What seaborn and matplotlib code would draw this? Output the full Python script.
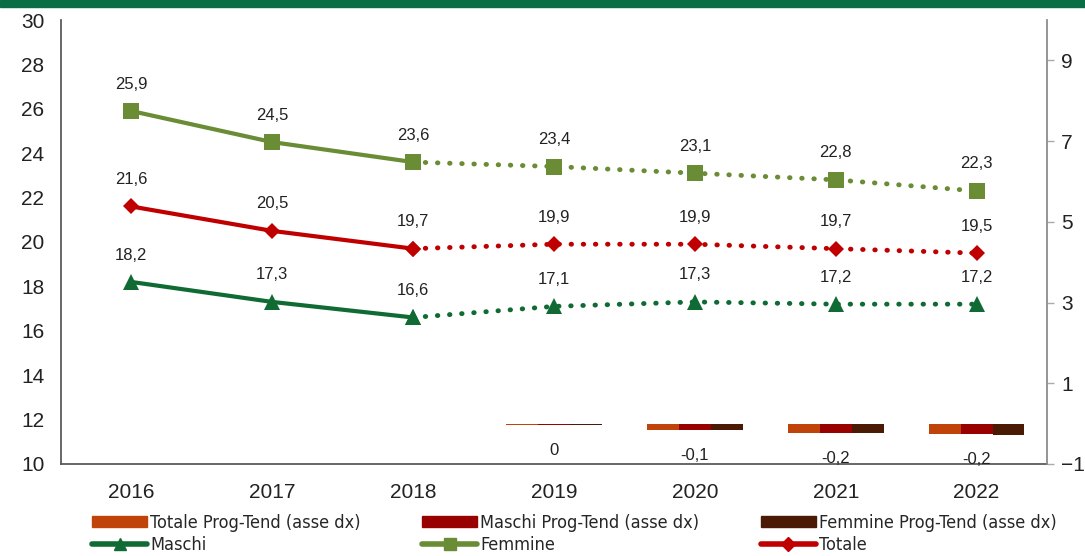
import numpy as np
import pandas as pd
import matplotlib
matplotlib.use("Agg")
import matplotlib.pyplot as plt
import seaborn as sns
from matplotlib.patches import Rectangle
from matplotlib.lines import Line2D

years = ["2016", "2017", "2018", "2019", "2020", "2021", "2022"]
femmine = [25.9, 24.5, 23.6, 23.4, 23.1, 22.8, 22.3]
totale = [21.6, 20.5, 19.7, 19.9, 19.9, 19.7, 19.5]
maschi = [18.2, 17.3, 16.6, 17.1, 17.3, 17.2, 17.2]

bar_years = ["2019", "2020", "2021", "2022"]
totale_pt = [-0.04, -0.15, -0.24, -0.25]
maschi_pt = [-0.04, -0.15, -0.24, -0.25]
femmine_pt = [-0.04, -0.15, -0.24, -0.27]

last_actual = "2018"

C_MASCHI = "#0f6b33"
C_FEMMINE = "#6a8c35"
C_TOTALE = "#c00000"
C_TOT_PT = "#c0440a"
C_MAS_PT = "#990000"
C_FEM_PT = "#4a1a05"

sns.set_theme(style="white")
plt.rcParams["font.family"] = ["Liberation Sans", "DejaVu Sans"]


def fmt(v):
    s = f"{v:.1f}".replace(".", ",")
    if s in ("-0,0", "0,0"):
        s = "0"
    return s


fig = plt.figure(figsize=(10.85, 5.56), dpi=100)
ax = fig.add_axes([0.0562, 0.1655, 0.9088, 0.7985])
ax2 = ax.twinx()

# bars on the right axis
bars = pd.DataFrame({
    "anno": bar_years * 3,
    "valore": totale_pt + maschi_pt + femmine_pt,
    "serie": ["Totale Prog-Tend (asse dx)"] * 4 + ["Maschi Prog-Tend (asse dx)"] * 4
    + ["Femmine Prog-Tend (asse dx)"] * 4,
})
sns.barplot(data=bars, x="anno", y="valore", hue="serie", order=years,
            palette=[C_TOT_PT, C_MAS_PT, C_FEM_PT], width=0.68, gap=0,
            saturation=1, linewidth=0, legend=False, ax=ax2)
for yr, v in zip(bar_years, totale_pt):
    i = years.index(yr)
    ax2.annotate(fmt(v), (i, v), xytext=(0, -13), textcoords="offset points",
                 ha="center", va="top", fontsize=12, color="#222222")

# lines on the left axis
idx = np.arange(len(years))
k = years.index(last_actual)
series = [("Maschi", maschi, C_MASCHI, "^", 12),
          ("Femmine", femmine, C_FEMMINE, "s", 11),
          ("Totale", totale, C_TOTALE, "D", 8.5)]
for name, vals, col, mk, ms in series:
    sns.lineplot(x=idx[:k + 1], y=vals[:k + 1], color=col, lw=3, ax=ax,
                 marker=mk, markersize=ms, markeredgewidth=0, zorder=3)
    sns.lineplot(x=idx[k:], y=vals[k:], color=col, lw=3.5, ax=ax,
                 linestyle=(0, (0.1, 2.4)), dash_capstyle="round", zorder=2)
    ax.plot(idx[k:], vals[k:], ls="none", marker=mk, markersize=ms,
            color=col, markeredgewidth=0, zorder=4)
    for i, v in enumerate(vals):
        ax.annotate(fmt(v), (i, v), xytext=(0, 14), textcoords="offset points",
                    ha="center", va="bottom", fontsize=12, color="#222222")

ax.set_xlim(-0.5, len(years) - 0.5)
ax.set_ylim(10, 30)
ax.set_yticks(range(10, 31, 2))
ax.set_xticks(idx)
ax.set_xticklabels(years)
ax2.set_ylim(-1, 10)
ax2.set_yticks([-1, 1, 3, 5, 7, 9])
ax.set_xlabel("")
ax.set_ylabel("")
ax2.set_xlabel("")
ax2.set_ylabel("")

for a in (ax, ax2):
    for s in a.spines.values():
        s.set_visible(False)
ax.spines["left"].set_visible(True)
ax.spines["bottom"].set_visible(True)
ax2.spines["right"].set_visible(True)
ax.spines["left"].set_color("#555555")
ax.spines["bottom"].set_color("#555555")
ax2.spines["right"].set_color("#888888")
ax.tick_params(axis="y", length=0, labelsize=15, pad=12, colors="#222222")
ax.tick_params(axis="x", length=0, labelsize=15, pad=14, colors="#222222")
ax2.tick_params(axis="y", length=5, width=1, color="#aaaaaa", labelsize=15,
                pad=5, labelcolor="#222222", direction="out")
ax.grid(False)
ax2.grid(False)

# top band
fig.patches.append(Rectangle((0, 0.987), 1, 0.013, transform=fig.transFigure,
                             color="#0a6e44", zorder=10))

handles = [
    Rectangle((0, 0), 1, 1, color=C_TOT_PT),
    Line2D([], [], color=C_MASCHI, lw=4, marker="^", markersize=9),
    Rectangle((0, 0), 1, 1, color=C_MAS_PT),
    Line2D([], [], color=C_FEMMINE, lw=4, marker="s", markersize=9),
    Rectangle((0, 0), 1, 1, color=C_FEM_PT),
    Line2D([], [], color=C_TOTALE, lw=4, marker="D", markersize=7),
]
labels = ["Totale Prog-Tend (asse dx)", "Maschi", "Maschi Prog-Tend (asse dx)",
          "Femmine", "Femmine Prog-Tend (asse dx)", "Totale"]
fig.legend(handles, labels, ncol=3, loc="lower left", bbox_to_anchor=(0.070, -0.026),
           frameon=False, handlelength=3.05, handleheight=0.6, handletextpad=0.17,
           columnspacing=3.4, labelspacing=0.25,
           prop={"family": ["DejaVu Sans", "Liberation Sans"], "stretch": "condensed",
                 "size": 13})

fig.savefig("out.png", dpi=100)
